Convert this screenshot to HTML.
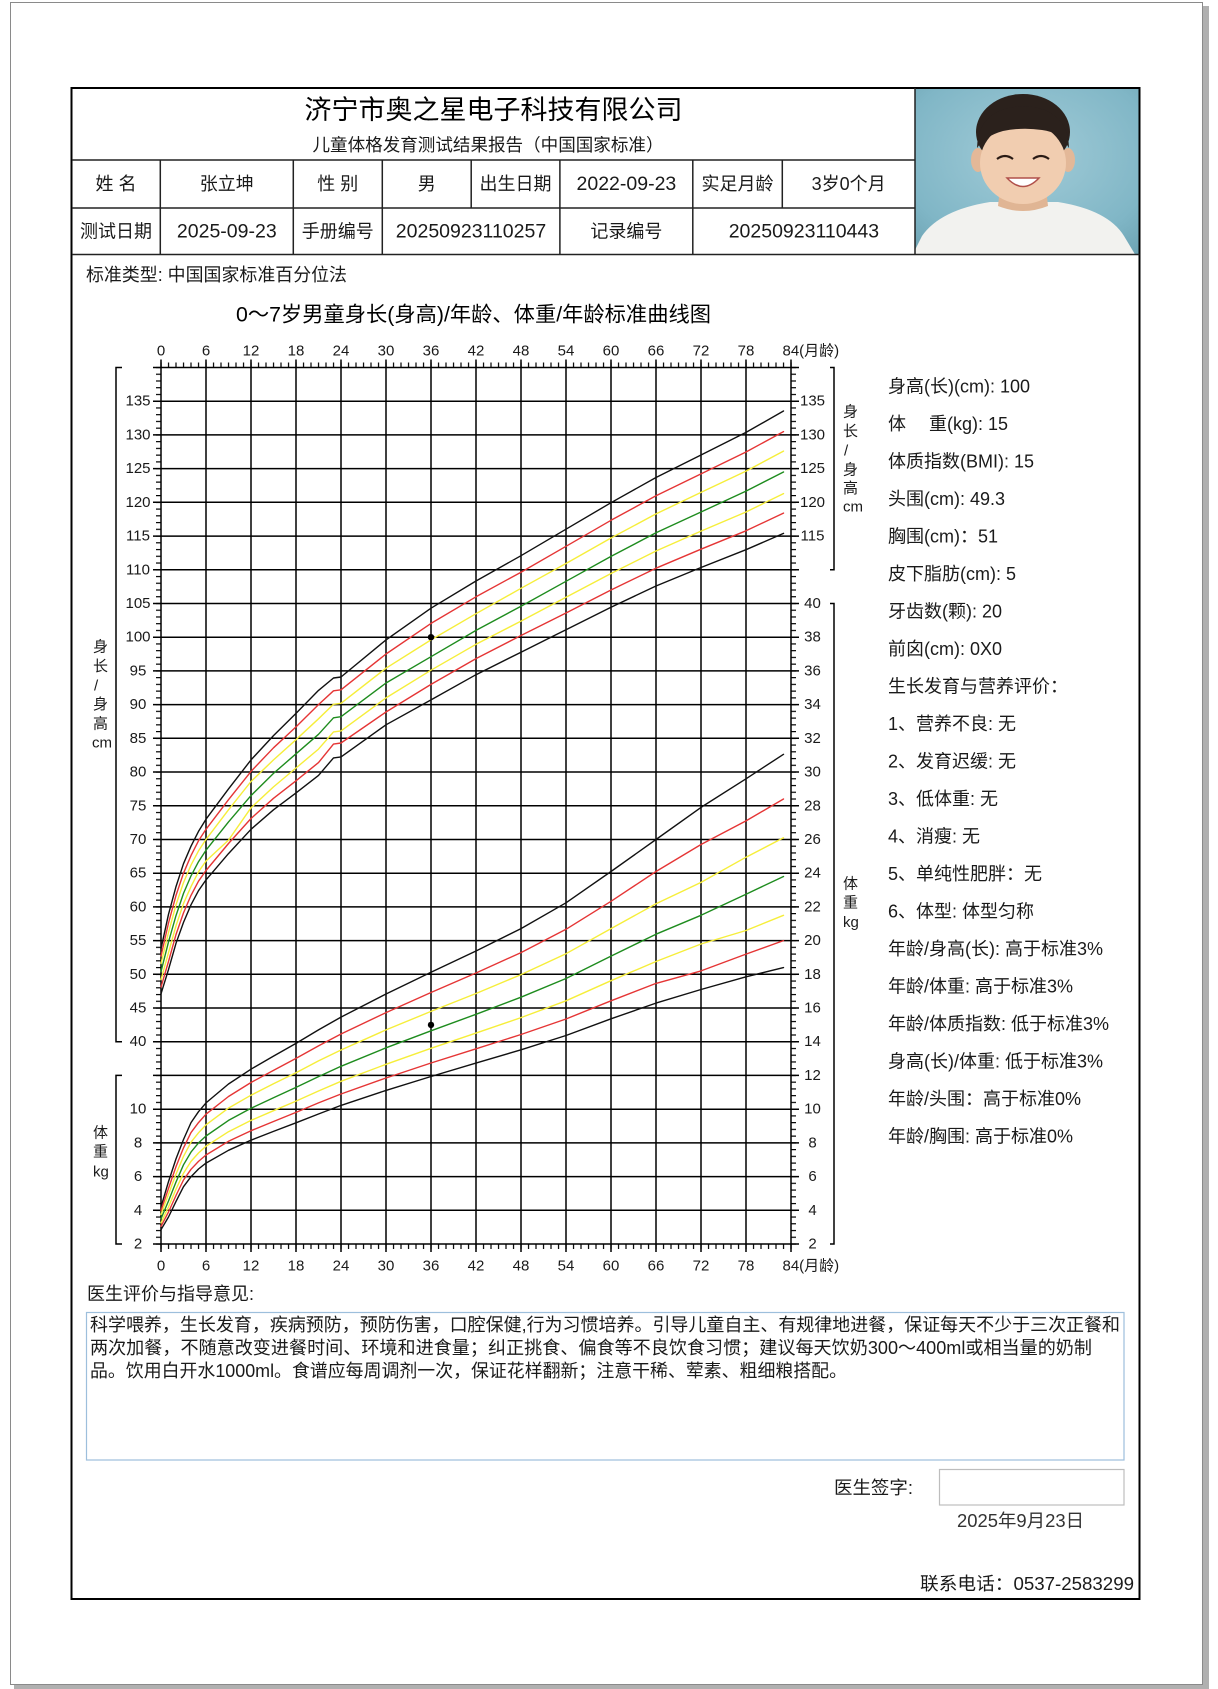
<!DOCTYPE html>
<html><head><meta charset="utf-8">
<style>
html,body{margin:0;padding:0;background:#fff;}
svg{display:block;}
text{font-family:"Liberation Sans","Noto Sans CJK SC",sans-serif;fill:#1a1a1a;dominant-baseline:central;}
</style></head><body>
<svg width="1218" height="1689" viewBox="0 0 1218 1689" xmlns="http://www.w3.org/2000/svg">
<defs>
<pattern id="px" patternUnits="userSpaceOnUse" x="160.4" y="0" width="7.5" height="20"><rect x="0" y="0" width="1.2" height="20" fill="#000"/></pattern>
<pattern id="py" patternUnits="userSpaceOnUse" x="0" y="366.9" width="20" height="6.74231"><rect x="0" y="0" width="20" height="1.2" fill="#000"/></pattern>
<radialGradient id="bg" cx="0.5" cy="0.4" r="0.8"><stop offset="0" stop-color="#a2ccd8"/><stop offset="0.7" stop-color="#80b6c6"/><stop offset="1" stop-color="#6aa0b0"/></radialGradient>
<clipPath id="pc"><rect x="915.5" y="89" width="223" height="165"/></clipPath>
</defs>
<rect x="0" y="0" width="1218" height="1689" fill="#fff"/>
<rect x="1203" y="6" width="6" height="1683" fill="#b0b0b0"/>
<rect x="14" y="1685" width="1195" height="4" fill="#b0b0b0"/>
<rect x="10.5" y="2.5" width="1192" height="1682" fill="#fff" stroke="#8a8a8a" stroke-width="1"/>

<!-- photo -->
<g clip-path="url(#pc)">
<rect x="915" y="88" width="226" height="167" fill="url(#bg)"/>
<path d="M912,256 L922,236 Q940,210 990,202 L1058,202 Q1108,210 1124,236 L1136,256 Z" fill="#f2f2ef"/>
<path d="M1000,188 L1046,188 L1048,206 Q1023,216 998,206 Z" fill="#e0b594"/>
<ellipse cx="1023" cy="132" rx="47" ry="38" fill="#2b211c"/>
<ellipse cx="978" cy="160" rx="7" ry="12" fill="#e3b898"/>
<ellipse cx="1068" cy="160" rx="7" ry="12" fill="#e3b898"/>
<ellipse cx="1023" cy="163" rx="43" ry="41" fill="#f1cdb0"/>
<path d="M977,148 Q978,108 1023,106 Q1068,108 1069,148 Q1060,132 1042,130 Q1022,127 1003,131 Q985,136 977,148 Z" fill="#2b211c"/>
<path d="M997,159 Q1005,153 1013,159" stroke="#2a1a14" stroke-width="2.2" fill="none"/>
<path d="M1033,159 Q1041,153 1049,159" stroke="#2a1a14" stroke-width="2.2" fill="none"/>
<path d="M1007,178 Q1023,195 1039,178 Z" fill="#fff" stroke="#b0504a" stroke-width="1.5"/>
</g>

<!-- table -->
<rect x="71.5" y="88" width="1068" height="1511" fill="none" stroke="#000" stroke-width="2"/>
<path d="M72,160H915M72,208H915M72,254.5H1139.5M915,88V254.5M160.3,160V254.5M293.3,160V254.5M382.3,160V254.5M471.2,160V208M559.9,160V254.5M692.8,160V254.5M782.3,160V208" stroke="#222" stroke-width="1.5" fill="none"/>

<text x="493.5" y="110" text-anchor="middle" font-size="26.5" textLength="378" lengthAdjust="spacingAndGlyphs" style="fill:#000">济宁市奥之星电子科技有限公司</text>
<text x="488" y="145" text-anchor="middle" font-size="17.5" textLength="351" lengthAdjust="spacingAndGlyphs">儿童体格发育测试结果报告（中国国家标准）</text>

<g font-size="18" text-anchor="middle">
<text x="116" y="184">姓 名</text>
<text x="226.8" y="184">张立坤</text>
<text x="337.8" y="184">性 别</text>
<text x="426.8" y="184">男</text>
<text x="515.5" y="184">出生日期</text>
<text x="626.4" y="184" font-size="19.5">2022-09-23</text>
<text x="737.5" y="184">实足月龄</text>
<text x="848.6" y="184">3岁0个月</text>
<text x="116" y="231.5">测试日期</text>
<text x="226.8" y="231.5" font-size="19.5">2025-09-23</text>
<text x="337.8" y="231.5">手册编号</text>
<text x="471" y="231.5" font-size="19.5">20250923110257</text>
<text x="626.4" y="231.5">记录编号</text>
<text x="803.9" y="231.5" font-size="19.5">20250923110443</text>
</g>

<text x="86" y="275" font-size="18" textLength="261" lengthAdjust="spacingAndGlyphs">标准类型: 中国国家标准百分位法</text>
<text x="236" y="315" font-size="21" textLength="475" lengthAdjust="spacingAndGlyphs" style="fill:#000">0～7岁男童身长(身高)/年龄、体重/年龄标准曲线图</text>

<!-- ticks -->
<rect x="158" y="362.5" width="636" height="5" fill="url(#px)"/>
<rect x="158" y="1244" width="636" height="5" fill="url(#px)"/>
<rect x="156" y="364" width="5" height="884" fill="url(#py)"/>
<rect x="791" y="364" width="5" height="884" fill="url(#py)"/>

<!-- grid -->
<path d="M161,359.5V1252M206,359.5V1252M251,359.5V1252M296,359.5V1252M341,359.5V1252M386,359.5V1252M431,359.5V1252M476,359.5V1252M521,359.5V1252M566,359.5V1252M611,359.5V1252M656,359.5V1252M701,359.5V1252M746,359.5V1252M791,359.5V1252
M153,367.5H799M153,401.2H799M153,434.9H799M153,468.6H799M153,502.3H799M153,536.1H799M153,569.8H799M153,603.5H799M153,637.2H799M153,670.9H799M153,704.6H799M153,738.3H799M153,772H799M153,805.8H799M153,839.5H799M153,873.2H799M153,906.9H799M153,940.6H799M153,974.3H799M153,1008H799M153,1041.7H799M153,1075.4H799M153,1109.2H799M153,1142.9H799M153,1176.6H799M153,1210.3H799M153,1244H799" stroke="#000" stroke-width="1.5" fill="none"/>

<!-- brackets -->
<path d="M122,367.5H116V1041.7H122M122,1075.4H116V1244H122M830,367.5H834V569.8H830M830,603.5H834V1244H830" stroke="#000" stroke-width="1.5" fill="none"/>

<!-- axis labels -->
<g font-size="15" text-anchor="middle">
<text x="161" y="351">0</text><text x="206" y="351">6</text><text x="251" y="351">12</text><text x="296" y="351">18</text><text x="341" y="351">24</text><text x="386" y="351">30</text><text x="431" y="351">36</text><text x="476" y="351">42</text><text x="521" y="351">48</text><text x="566" y="351">54</text><text x="611" y="351">60</text><text x="656" y="351">66</text><text x="701" y="351">72</text><text x="746" y="351">78</text>
<text x="161" y="1266">0</text><text x="206" y="1266">6</text><text x="251" y="1266">12</text><text x="296" y="1266">18</text><text x="341" y="1266">24</text><text x="386" y="1266">30</text><text x="431" y="1266">36</text><text x="476" y="1266">42</text><text x="521" y="1266">48</text><text x="566" y="1266">54</text><text x="611" y="1266">60</text><text x="656" y="1266">66</text><text x="701" y="1266">72</text><text x="746" y="1266">78</text>

<text x="138" y="401.2">135</text><text x="138" y="434.9">130</text><text x="138" y="468.6">125</text><text x="138" y="502.3">120</text><text x="138" y="536.1">115</text><text x="138" y="569.8">110</text><text x="138" y="603.5">105</text><text x="138" y="637.2">100</text><text x="138" y="670.9">95</text><text x="138" y="704.6">90</text><text x="138" y="738.3">85</text><text x="138" y="772">80</text><text x="138" y="805.8">75</text><text x="138" y="839.5">70</text><text x="138" y="873.2">65</text><text x="138" y="906.9">60</text><text x="138" y="940.6">55</text><text x="138" y="974.3">50</text><text x="138" y="1008">45</text><text x="138" y="1041.7">40</text>
<text x="138" y="1109.2">10</text><text x="138" y="1142.9">8</text><text x="138" y="1176.6">6</text><text x="138" y="1210.3">4</text><text x="138" y="1244">2</text>

<text x="812.5" y="401.2">135</text><text x="812.5" y="434.9">130</text><text x="812.5" y="468.6">125</text><text x="812.5" y="502.3">120</text><text x="812.5" y="536.1">115</text>
<text x="812.5" y="603.5">40</text><text x="812.5" y="637.2">38</text><text x="812.5" y="670.9">36</text><text x="812.5" y="704.6">34</text><text x="812.5" y="738.3">32</text><text x="812.5" y="772">30</text><text x="812.5" y="805.8">28</text><text x="812.5" y="839.5">26</text><text x="812.5" y="873.2">24</text><text x="812.5" y="906.9">22</text><text x="812.5" y="940.6">20</text><text x="812.5" y="974.3">18</text><text x="812.5" y="1008">16</text><text x="812.5" y="1041.7">14</text><text x="812.5" y="1075.4">12</text><text x="812.5" y="1109.2">10</text><text x="812.5" y="1142.9">8</text><text x="812.5" y="1176.6">6</text><text x="812.5" y="1210.3">4</text><text x="812.5" y="1244">2</text>
</g>
<text x="782.5" y="351" font-size="15">84(月龄)</text>
<text x="782.5" y="1266" font-size="15">84(月龄)</text>

<g font-size="15">
<text x="93" y="647">身</text><text x="93" y="666.5">长</text><text x="94" y="686">/</text><text x="93" y="704.5">身</text><text x="93" y="724">高</text><text x="92" y="743">cm</text>
<text x="93" y="1133">体</text><text x="93" y="1152">重</text><text x="93" y="1172">kg</text>
<text x="843" y="412">身</text><text x="843" y="431.5">长</text><text x="844" y="451">/</text><text x="843" y="470">身</text><text x="843" y="488.5">高</text><text x="843" y="507">cm</text>
<text x="843" y="884">体</text><text x="843" y="903">重</text><text x="843" y="922.5">kg</text>
</g>

<!-- curves -->
<g fill="none" stroke-width="1.4" stroke-linejoin="round" stroke-linecap="round">
<polyline stroke="#111" points="161,993.8 168.5,969.6 176,943.3 183.5,922.4 191,904.8 198.5,890.7 206,879.9 228.5,853.6 251,829.3 273.5,809.8 296,792.9 318.5,775.4 333.5,757.9 341,756.9 386,724.8 431,699.9 476,674.7 521,652.2 566,629.7 611,607.2 656,586.0 701,567.5 746,549.7 783.5,533.4"/>
<polyline stroke="#111" points="161,948.7 168.5,914.3 176,886.6 183.5,863.7 191,846.2 198.5,831.4 206,819.2 228.5,788.9 251,759.9 273.5,735.6 296,713.4 318.5,690.4 333.5,678.0 341,677.0 386,639.9 431,608.2 476,581.0 521,555.7 566,529.2 611,502.7 656,477.5 701,455.0 746,432.4 783.5,411.0"/>
<polyline stroke="#e53535" points="161,987.1 168.5,961.5 176,934.5 183.5,912.9 191,895.4 198.5,881.2 206,870.5 228.5,843.5 251,818.5 273.5,798.3 296,780.8 318.5,762.6 333.5,744.1 341,743.0 386,712.0 431,684.4 476,658.6 521,635.5 566,613.0 611,590.0 656,568.2 701,549.2 746,530.8 783.5,513.1"/>
<polyline stroke="#e53535" points="161,956.1 168.5,923.0 176,895.4 183.5,873.2 191,855.6 198.5,840.8 206,829.3 228.5,799.7 251,771.4 273.5,747.8 296,726.9 318.5,704.6 333.5,690.8 341,689.8 386,654.0 431,623.4 476,596.8 521,572.2 566,546.3 611,520.3 656,495.8 701,473.9 746,452.0 783.5,431.6"/>
<polyline stroke="#f6ee3a" points="161,979.7 168.5,952.7 176,925.7 183.5,903.5 191,886.6 198.5,871.8 206,861.0 228.5,840.1 251,807.8 273.5,786.9 296,768.0 318.5,749.1 333.5,731.9 341,730.9 386,697.9 431,670.2 476,644.3 521,621.1 566,597.3 611,573.5 656,551.0 701,531.1 746,512.0 783.5,493.6"/>
<polyline stroke="#f6ee3a" points="161,963.5 168.5,932.5 176,904.8 183.5,882.6 191,865.1 198.5,850.9 206,839.4 228.5,809.8 251,781.5 273.5,759.9 296,739.7 318.5,718.8 333.5,704.3 341,703.3 386,668.2 431,639.9 476,613.7 521,588.3 566,563.5 611,538.0 656,513.9 701,492.4 746,471.1 783.5,451.1"/>
<polyline stroke="#1e8c1e" points="161,971.6 168.5,941.9 176,915.6 183.5,893.4 191,875.9 198.5,861.7 206,850.2 228.5,821.9 251,795.6 273.5,773.4 296,753.8 318.5,734.3 333.5,717.8 341,716.7 386,683.0 431,656.7 476,630.4 521,606.2 566,581.3 611,556.4 656,532.8 701,512.0 746,491.1 783.5,472.0"/>

<polyline stroke="#111" points="161,1229.7 168.5,1217.0 176,1201.4 183.5,1186.7 191,1176.7 198.5,1169.0 206,1163.1 228.5,1150.3 251,1140.2 273.5,1131.4 296,1122.8 318.5,1114.0 341,1105.4 386,1090.4 431,1076.5 476,1063.1 521,1049.8 566,1035.5 611,1018.8 656,1003.1 701,989.5 746,976.8 783.5,967.6"/>
<polyline stroke="#111" points="161,1206.9 168.5,1181.6 176,1158.9 183.5,1139.5 191,1122.6 198.5,1111.7 206,1102.9 228.5,1084.0 251,1069.2 273.5,1056.1 296,1043.4 318.5,1029.9 341,1017.1 386,994.0 431,972.3 476,951.0 521,928.6 566,902.8 611,871.5 656,839.5 701,807.4 746,778.8 783.5,754.3"/>
<polyline stroke="#e53535" points="161,1226.3 168.5,1212.0 176,1195.5 183.5,1180.0 191,1169.3 198.5,1161.4 206,1155.0 228.5,1141.3 251,1130.7 273.5,1121.5 296,1112.4 318.5,1102.9 341,1094.0 386,1078.0 431,1063.0 476,1048.8 521,1034.5 566,1019.0 611,1000.8 656,983.4 701,970.9 746,954.1 783.5,940.6"/>
<polyline stroke="#e53535" points="161,1210.6 168.5,1188.4 176,1166.6 183.5,1147.9 191,1132.6 198.5,1122.6 206,1114.2 228.5,1096.5 251,1082.5 273.5,1070.4 296,1058.4 318.5,1045.9 341,1034.0 386,1012.6 431,992.5 476,973.0 521,952.6 566,929.3 611,901.3 656,871.5 701,844.5 746,820.9 783.5,799.0"/>
<polyline stroke="#f6ee3a" points="161,1222.9 168.5,1206.9 176,1189.2 183.5,1173.2 191,1161.4 198.5,1153.0 206,1146.2 228.5,1131.7 251,1120.4 273.5,1110.7 296,1101.1 318.5,1091.0 341,1081.3 386,1064.3 431,1048.3 476,1033.1 521,1017.6 566,1000.8 611,980.7 656,961.5 701,944.0 746,930.5 783.5,915.3"/>
<polyline stroke="#f6ee3a" points="161,1214.5 168.5,1194.3 176,1174.1 183.5,1156.4 191,1142.2 198.5,1132.8 206,1124.8 228.5,1108.1 251,1095.2 273.5,1083.7 296,1072.7 318.5,1060.9 341,1050.0 386,1029.9 431,1011.4 476,993.5 521,974.6 566,953.7 611,928.6 656,903.8 701,882.4 746,857.2 783.5,837.8"/>
<polyline stroke="#1e8c1e" points="161,1218.7 168.5,1201.0 176,1182.0 183.5,1164.8 191,1152.1 198.5,1142.9 206,1136.0 228.5,1120.4 251,1108.3 273.5,1097.7 296,1087.4 318.5,1076.6 341,1066.3 386,1047.8 431,1030.8 476,1014.3 521,997.2 566,978.5 611,956.1 656,934.2 701,915.3 746,894.2 783.5,876.5"/>
</g>
<circle cx="431" cy="637.2" r="3.2" fill="#000"/>
<circle cx="431" cy="1024.9" r="3.2" fill="#000"/>

<!-- right info -->
<g font-size="18">
<text x="888" y="386.7">身高(长)(cm): 100</text>
<text x="888" y="424.2">体</text><text x="929" y="424.2">重(kg): 15</text>
<text x="888" y="461.7">体质指数(BMI): 15</text>
<text x="888" y="499.2">头围(cm): 49.3</text>
<text x="888" y="536.7">胸围(cm)：51</text>
<text x="888" y="574.2">皮下脂肪(cm): 5</text>
<text x="888" y="611.7">牙齿数(颗): 20</text>
<text x="888" y="649.2">前囟(cm): 0X0</text>
<text x="888" y="686.7">生长发育与营养评价：</text>
<text x="888" y="724.2">1、营养不良: 无</text>
<text x="888" y="761.7">2、发育迟缓: 无</text>
<text x="888" y="799.2">3、低体重: 无</text>
<text x="888" y="836.7">4、消瘦: 无</text>
<text x="888" y="874.2">5、单纯性肥胖：无</text>
<text x="888" y="911.7">6、体型: 体型匀称</text>
<text x="888" y="949.2">年龄/身高(长): 高于标准3%</text>
<text x="888" y="986.7">年龄/体重: 高于标准3%</text>
<text x="888" y="1024.2">年龄/体质指数: 低于标准3%</text>
<text x="888" y="1061.7">身高(长)/体重: 低于标准3%</text>
<text x="888" y="1099.2">年龄/头围：高于标准0%</text>
<text x="888" y="1136.7">年龄/胸围: 高于标准0%</text>
</g>

<!-- bottom -->
<text x="87" y="1294" font-size="18" textLength="167" lengthAdjust="spacingAndGlyphs">医生评价与指导意见:</text>
<rect x="86.5" y="1312.5" width="1037.5" height="147.5" fill="none" stroke="#9dbfdc" stroke-width="1.2"/>
<g font-size="18">
<text x="90" y="1325" textLength="1030" lengthAdjust="spacingAndGlyphs">科学喂养，生长发育，疾病预防，预防伤害，口腔保健,行为习惯培养。引导儿童自主、有规律地进餐，保证每天不少于三次正餐和</text>
<text x="90" y="1348" textLength="1002" lengthAdjust="spacingAndGlyphs">两次加餐，不随意改变进餐时间、环境和进食量；纠正挑食、偏食等不良饮食习惯；建议每天饮奶300～400ml或相当量的奶制</text>
<text x="90" y="1371" textLength="757" lengthAdjust="spacingAndGlyphs">品。饮用白开水1000ml。食谱应每周调剂一次，保证花样翻新；注意干稀、荤素、粗细粮搭配。</text>
<text x="834" y="1488" textLength="79" lengthAdjust="spacingAndGlyphs">医生签字:</text>
<text x="957" y="1521" textLength="127" lengthAdjust="spacingAndGlyphs" style="fill:#333">2025年9月23日</text>
<text x="1134" y="1584" text-anchor="end" textLength="214" lengthAdjust="spacingAndGlyphs">联系电话：0537-2583299</text>
</g>
<rect x="939.5" y="1469.5" width="184.5" height="35.5" fill="none" stroke="#bdbdbd" stroke-width="1.2"/>
</svg>
</body></html>
